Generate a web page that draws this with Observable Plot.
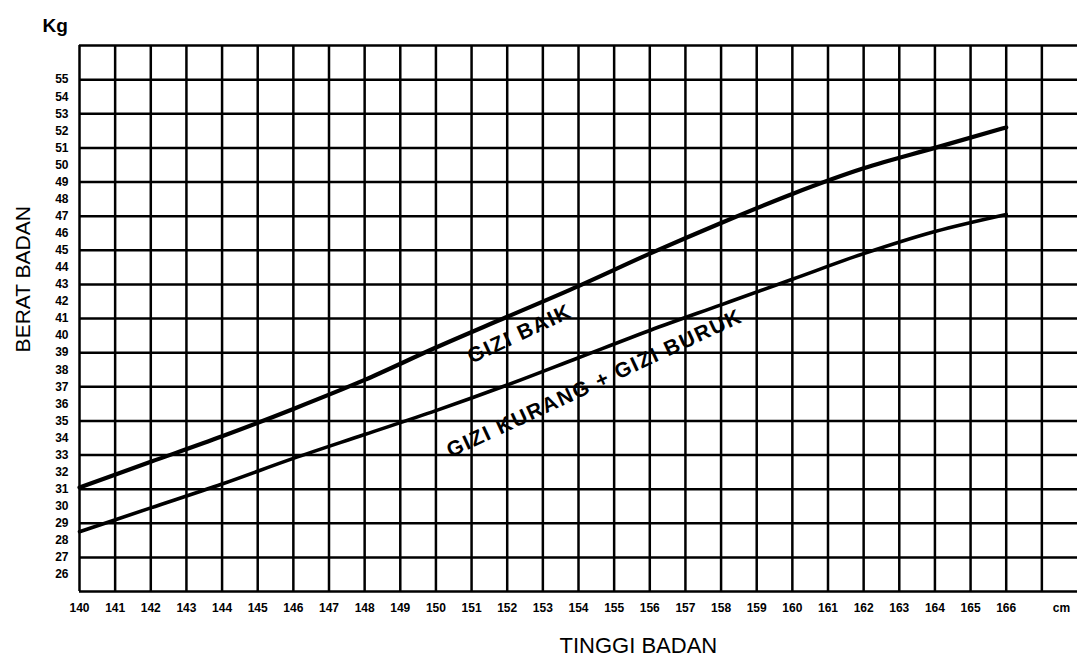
<!DOCTYPE html>
<html>
<head>
<meta charset="utf-8">
<script src="https://cdn.jsdelivr.net/npm/d3@7"></script>
<script src="https://cdn.jsdelivr.net/npm/@observablehq/plot@0.6"></script>
<style>
  html, body { margin: 0; padding: 0; background: #fff; }
  #chart svg { display: block; }
</style>
</head>
<body>
<div id="chart"></div>
<script>
// Tinggi badan (cm)
const heights = [140, 142, 144, 146, 148, 150, 152, 154, 156, 158, 160, 162, 164, 166];
// Batas atas: GIZI BAIK (kg)
const giziBaik = [31.1, 32.6, 34.1, 35.7, 37.4, 39.3, 41.1, 42.9, 44.8, 46.6, 48.3, 49.8, 51.0, 52.2];
// Batas bawah: GIZI KURANG + GIZI BURUK (kg)
const giziKurang = [28.5, 29.9, 31.3, 32.8, 34.2, 35.6, 37.1, 38.7, 40.3, 41.8, 43.3, 44.8, 46.1, 47.1];

// Tick labels
const xTickValues = [140,141,142,143,144,145,146,147,148,149,150,151,152,153,154,155,156,157,158,159,160,161,162,163,164,165,166,167.55];
const xTickLabels = ["140","141","142","143","144","145","146","147","148","149","150","151","152","153","154","155","156","157","158","159","160","161","162","163","164","165","166","cm"];
const yTickValues = [26,27,28,29,30,31,32,33,34,35,36,37,38,39,40,41,42,43,44,45,46,47,48,49,50,51,52,53,54,55];
// Grid lines
const gridX = [140,141,142,143,144,145,146,147,148,149,150,151,152,153,154,155,156,157,158,159,160,161,162,163,164,165,166,167];
const gridY = [25,27,29,31,33,35,37,39,41,43,45,47,49,51,53,55,57];

// Curve labels
const curveLabels = [
  {x: 152.35, y: 40.1, text: "GIZI BAIK"},
  {x: 154.45, y: 37.2, text: "GIZI KURANG + GIZI BURUK"}
];
// Axis titles
const yTitle = [{x: 138.43, y: 43.3, text: "BERAT BADAN"}];
const xTitle = [{x: 155.68, y: 21.8, text: "TINGGI BADAN"}];

const baikData = heights.map((h, i) => ({h, w: giziBaik[i]}));
const kurangData = heights.map((h, i) => ({h, w: giziKurang[i]}));

const chart = Plot.plot({
  width: 1077,
  height: 659,
  marginLeft: 79,
  marginRight: 0,
  marginTop: 45,
  marginBottom: 68,
  x: {domain: [140, 168]},
  y: {domain: [25, 57]},
  style: {fontFamily: "'Liberation Sans', Arial, Helvetica, sans-serif", background: "#fff", color: "#000"},
  marks: [
    Plot.ruleX(gridX, {stroke: "#000", strokeWidth: 2.5}),
    Plot.ruleY(gridY, {stroke: "#000", strokeWidth: 2.5}),
    Plot.line(baikData, {x: "h", y: "w", stroke: "#000", strokeWidth: 4.2, curve: "monotone-x"}),
    Plot.line(kurangData, {x: "h", y: "w", stroke: "#000", strokeWidth: 3.6, curve: "monotone-x"}),
    Plot.axisX({ticks: xTickValues, tickSize: 0, tickPadding: 12, fontSize: 12, fontWeight: "bold",
      tickFormat: (d) => xTickLabels[xTickValues.indexOf(d)], label: null}),
    Plot.axisY({ticks: yTickValues, tickSize: 0, tickPadding: 11, fontSize: 12, fontWeight: "bold", label: null}),
    Plot.text(curveLabels, {x: "x", y: "y", text: "text", rotate: -25, fontSize: 21, fontWeight: "bold", fill: "#000"}),
    Plot.text(["Kg"], {frameAnchor: "top-left", textAnchor: "start", dx: -37, dy: -27, fontSize: 19, fontWeight: "bold"}),
    Plot.text(yTitle, {x: "x", y: "y", text: "text", rotate: -90, fontSize: 21}),
    Plot.text(xTitle, {x: "x", y: "y", text: "text", fontSize: 22})
  ]
});

// letter spacing for curve labels (as in the printed chart)
chart.querySelectorAll("text").forEach(t => {
  if (t.textContent === "GIZI BAIK" || t.textContent === "GIZI KURANG + GIZI BURUK") {
    t.setAttribute("letter-spacing", "1.6");
  }
});

document.getElementById("chart").appendChild(chart);
</script>
</body>
</html>
